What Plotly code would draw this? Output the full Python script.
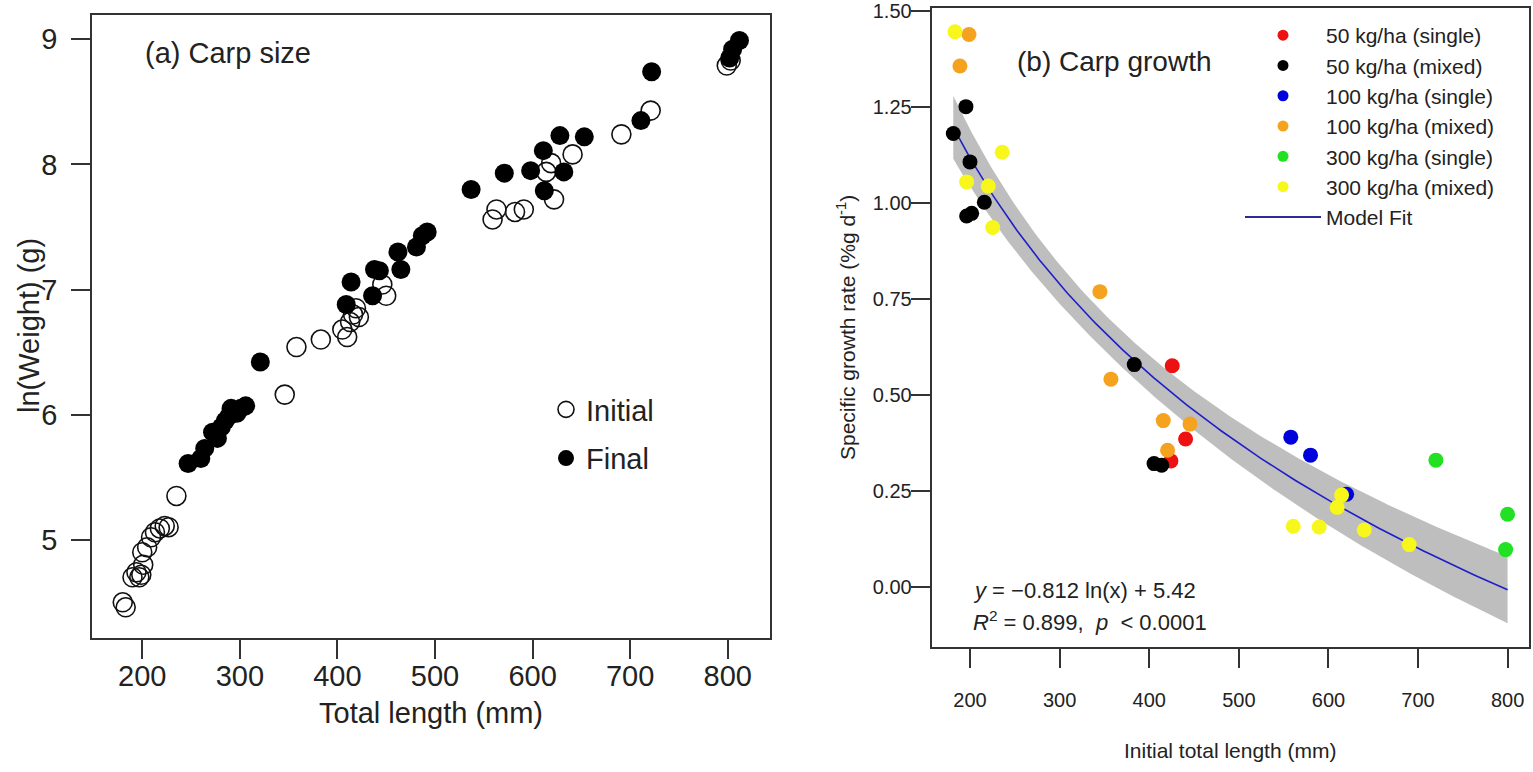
import numpy as np
import plotly.graph_objects as go

# ---------------- Panel (a): Carp size ----------------
init_len = [180, 183, 190, 194, 197, 199, 201, 200, 205, 209, 213, 218, 223, 227, 235,
            346, 358, 383, 405, 410, 413, 416, 419, 422, 446, 450,
            559, 563, 582, 591, 614, 619, 622, 641, 691, 721, 799, 803]
init_lnw = [4.50, 4.46, 4.70, 4.74, 4.70, 4.72, 4.80, 4.90, 4.94, 5.02, 5.06, 5.09, 5.11, 5.10, 5.35,
            6.16, 6.54, 6.60, 6.68, 6.62, 6.74, 6.80, 6.85, 6.78, 7.04, 6.95,
            7.56, 7.64, 7.62, 7.64, 7.94, 8.01, 7.72, 8.08, 8.24, 8.43, 8.79, 8.83]
final_len = [247, 260, 264, 272, 277, 281, 285, 289, 291, 297, 301, 306, 321,
             409, 414, 436, 438, 443, 462, 465, 481, 487, 492,
             537, 571, 598, 611, 612, 628, 632, 653, 711, 722, 802, 805, 812]
final_lnw = [5.61, 5.65, 5.73, 5.86, 5.81, 5.90, 5.95, 5.99, 6.05, 6.01, 6.05, 6.07, 6.42,
             6.88, 7.06, 6.95, 7.16, 7.15, 7.30, 7.16, 7.34, 7.43, 7.46,
             7.80, 7.93, 7.95, 8.11, 7.79, 8.23, 7.94, 8.22, 8.35, 8.74, 8.85, 8.92, 8.99]

# ---------------- Panel (b): Carp growth ----------------
groups = ["50 kg/ha (single)", "50 kg/ha (mixed)", "100 kg/ha (single)",
          "100 kg/ha (mixed)", "300 kg/ha (single)", "300 kg/ha (mixed)"]
group_colors = ["#ee1111", "#000000", "#0000dd", "#f5a21e", "#22e022", "#f7f71c"]

red_x = [425.7, 440.6, 424.2]
red_y = [0.576, 0.385, 0.328]
black_x = [195.5, 181.4, 200.0, 216.0, 196.3, 201.9, 383.3, 405.4, 413.9]
black_y = [1.251, 1.181, 1.107, 1.002, 0.966, 0.973, 0.579, 0.321, 0.317]
blue_x = [558.0, 580.0, 620.3]
blue_y = [0.390, 0.343, 0.241]
orange_x = [198.9, 188.8, 345.0, 357.3, 415.7, 445.5, 420.5]
orange_y = [1.439, 1.357, 0.769, 0.541, 0.433, 0.424, 0.356]
green_x = [719.9, 799.9, 797.7]
green_y = [0.330, 0.189, 0.097]
yellow_x = [183.3, 236.0, 196.3, 220.4, 225.3, 560.7, 589.7, 614.7, 609.8, 640.0, 690.1]
yellow_y = [1.446, 1.132, 1.055, 1.044, 0.936, 0.158, 0.156, 0.239, 0.207, 0.148, 0.110]

fit_slope = -0.812
fit_intercept = 5.42

group_x = [red_x, black_x, blue_x, orange_x, green_x, yellow_x]
group_y = [red_y, black_y, blue_y, orange_y, green_y, yellow_y]

# model fit and 95% confidence band (from data residuals about the stated model)
all_x = np.concatenate([np.array(v, float) for v in group_x])
all_y = np.concatenate([np.array(v, float) for v in group_y])
lx = np.log(all_x)
resid = all_y - (fit_intercept + fit_slope * lx)
n = len(all_x)
s = np.sqrt(np.sum(resid ** 2) / (n - 2))
sxx = np.sum((lx - lx.mean()) ** 2)
t_crit = 2.032
xg = np.linspace(all_x.min(), all_x.max(), 200)
yg = fit_intercept + fit_slope * np.log(xg)
half = t_crit * s * np.sqrt(1.0 / n + (np.log(xg) - lx.mean()) ** 2 / sxx)

W, H = 1533, 772
FONT = "Liberation Sans, Arial, sans-serif"
AX = "#333333"
TXT = "#222222"

fig = go.Figure()

# --- panel a traces
fig.add_trace(go.Scatter(x=init_len, y=init_lnw, mode="markers", name="Initial",
                         marker=dict(symbol="circle-open", size=19, color="#111111",
                                     line=dict(width=1.6, color="#111111")),
                         xaxis="x", yaxis="y", legend="legend2", legendgroup="i"))
fig.add_trace(go.Scatter(x=final_len, y=final_lnw, mode="markers", name="Final",
                         marker=dict(symbol="circle", size=19, color="#000000"),
                         xaxis="x", yaxis="y", legend="legend2", legendgroup="f"))

# --- panel b: band, line, points
fig.add_trace(go.Scatter(x=np.concatenate([xg, xg[::-1]]),
                         y=np.concatenate([yg + half, (yg - half)[::-1]]),
                         fill="toself", fillcolor="#bebebe", line=dict(width=0),
                         mode="lines", hoverinfo="skip", showlegend=False,
                         xaxis="x2", yaxis="y2"))
fig.add_trace(go.Scatter(x=xg, y=yg, mode="lines", line=dict(color="#1f1fc8", width=1.6),
                         showlegend=False, xaxis="x2", yaxis="y2"))
draw_order = [0, 2, 4, 1, 3, 5]
for i in draw_order:
    fig.add_trace(go.Scatter(x=group_x[i], y=group_y[i], mode="markers",
                             marker=dict(size=15, color=group_colors[i]),
                             name=groups[i], showlegend=False, xaxis="x2", yaxis="y2"))
# legend entries
for i in range(6):
    fig.add_trace(go.Scatter(x=[None], y=[None], mode="markers",
                             marker=dict(size=11, color=group_colors[i]),
                             name=groups[i], xaxis="x2", yaxis="y2", legend="legend"))
fig.add_trace(go.Scatter(x=[None], y=[None], mode="lines", name="Model Fit",
                         line=dict(color="#2a2a9a", width=2),
                         xaxis="x2", yaxis="y2", legend="legend"))

common = dict(showline=True, mirror=True, linecolor=AX, linewidth=2,
              ticks="outside", tickcolor=AX, tickwidth=2, ticklen=19,
              showgrid=False, zeroline=False, automargin=False)

fig.update_layout(
    width=W, height=H,
    margin=dict(l=0, r=0, t=0, b=0),
    paper_bgcolor="white", plot_bgcolor="white",
    font=dict(family=FONT, color=TXT),
    xaxis=dict(domain=[92.3 / W, 770 / W], range=[148.8, 843.3],
               tickvals=[200, 300, 400, 500, 600, 700, 800], ticklabelstandoff=-8,
               tickfont=dict(size=29, color=TXT), anchor="y", **common),
    yaxis=dict(domain=[1 - 637.7 / H, 1 - 15 / H], range=[4.217, 9.194],
               tickvals=[5, 6, 7, 8, 9], ticklabelstandoff=8,
               tickfont=dict(size=29, color=TXT), anchor="x", **common),
    xaxis2=dict(domain=[931.7 / W, 1529 / W], range=[157.3, 823.8],
                tickvals=[200, 300, 400, 500, 600, 700, 800], ticklabelstandoff=15,
                tickfont=dict(size=20, color=TXT), anchor="y2", **common),
    yaxis2=dict(domain=[1 - 646.7 / H, 1 - 8 / H], range=[-0.156, 1.508],
                tickvals=[0, 0.25, 0.5, 0.75, 1.0, 1.25, 1.5], tickformat=".2f",
                ticklabelstandoff=-5,
                tickfont=dict(size=20, color=TXT), anchor="x2", **common),
    legend=dict(x=1240 / W, y=1 - 15 / H, xanchor="left", yanchor="top",
                font=dict(size=21, color=TXT), itemwidth=76,
                bgcolor="rgba(0,0,0,0)", tracegroupgap=0),
    legend2=dict(x=546 / W, y=1 - 384 / H, xanchor="left", yanchor="top",
                 font=dict(size=29, color=TXT), bgcolor="rgba(0,0,0,0)",
                 tracegroupgap=8),
    showlegend=True,
)

ann = [
    dict(text="(a) Carp size", x=143 / W, y=1 - 53 / H, xanchor="left", yanchor="middle",
         font=dict(size=29)),
    dict(text="(b) Carp growth", x=1015 / W, y=1 - 62 / H, xanchor="left", yanchor="middle",
         font=dict(size=28)),
    dict(text="Total length (mm)", x=431 / W, y=1 - 713 / H, xanchor="center", yanchor="middle",
         font=dict(size=29)),
    dict(text="ln(Weight) (g)", x=29 / W, y=1 - 326 / H, xanchor="center", yanchor="middle",
         textangle=-90, font=dict(size=29)),
    dict(text="Initial total length (mm)", x=1230 / W, y=1 - 750 / H, xanchor="center",
         yanchor="middle", font=dict(size=21)),
    dict(text="Specific growth rate (%g d<sup>-1</sup>)", x=846 / W, y=1 - 328 / H,
         xanchor="center", yanchor="middle", textangle=-90, font=dict(size=21)),
    dict(text="<i>y</i> = \u22120.812 ln(x) + 5.42", x=971 / W, y=1 - 590 / H,
         xanchor="left", yanchor="middle", font=dict(size=22)),
    dict(text="<i>R</i><sup>2</sup> = 0.899,  <i>p</i>  < 0.0001", x=971 / W, y=1 - 621 / H,
         xanchor="left", yanchor="middle", font=dict(size=22)),
]
for a in ann:
    a.update(xref="paper", yref="paper", showarrow=False)
    a["font"] = dict(family=FONT, color=TXT, **a["font"])
fig.update_layout(annotations=ann)

fig.write_html("out.html", config={"displayModeBar": False},
               post_script="document.body.style.margin='0';document.body.style.overflow='hidden';")
